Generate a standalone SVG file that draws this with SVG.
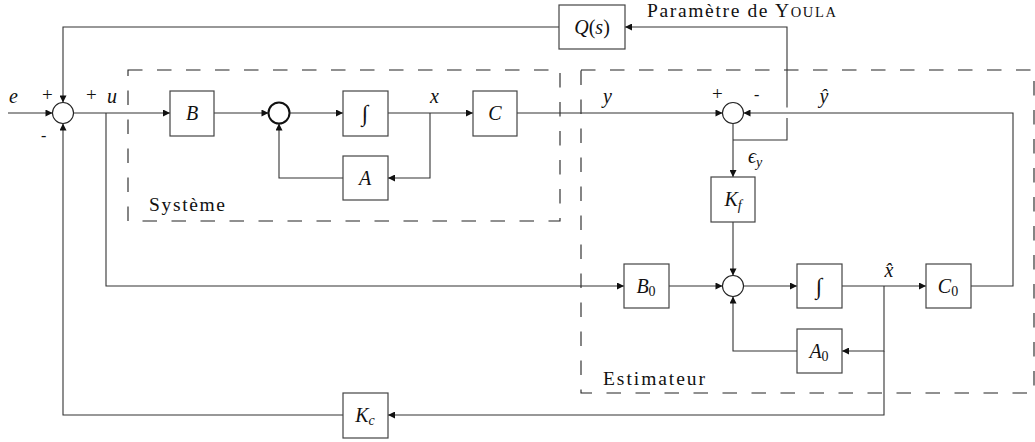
<svg xmlns="http://www.w3.org/2000/svg" width="1035" height="442" viewBox="0 0 1035 442">
  <style>
    .box { fill: #fff; stroke: #444; stroke-width: 1.2; }
    .sum { fill: #fff; stroke: #222; stroke-width: 1.1; }
    .sumb { fill: #fff; stroke: #111; stroke-width: 2; }
    .wire { fill: none; stroke: #333; stroke-width: 1.1; }
    .dash { fill: none; stroke: #222; stroke-width: 1.1; stroke-dasharray: 14.5 14.5; }
    .m { font-family: "Liberation Serif", serif; font-style: italic; font-size: 20px; fill: #111; }
    .mc { font-family: "Liberation Serif", serif; font-style: italic; font-size: 20px; fill: #111; text-anchor: middle; }
    .sub { font-style: normal; font-size: 14px; }
    .subi { font-style: italic; font-size: 14px; }
    .t { font-family: "Liberation Serif", serif; font-size: 19.5px; fill: #111; }
    .s { font-family: "Liberation Serif", serif; font-size: 19px; fill: #111; }
    .h { font-family: "Liberation Serif", serif; font-size: 16px; fill: #111; }
    .int { font-family: "Liberation Serif", "DejaVu Serif", serif; font-style: italic; font-size: 23px; fill: #111; text-anchor: middle; }
  </style>
  <defs>
    <marker id="arr" viewBox="0 0 10 10" refX="10" refY="5" markerWidth="8" markerHeight="7" markerUnits="userSpaceOnUse" orient="auto">
      <path d="M0,0 L10,5 L0,10 z" fill="#111"/>
    </marker>
  </defs>

  <!-- dashed regions -->
  <g id="systeme-region">
    <rect class="dash" x="128" y="70" width="432" height="151"/>
    <text class="t" x="149" y="211" textLength="76" lengthAdjust="spacing">Système</text>
  </g>
  <g id="estimateur-region">
    <rect class="dash" x="581" y="70" width="453" height="323"/>
    <text class="t" x="603" y="385" textLength="102" lengthAdjust="spacing">Estimateur</text>
  </g>

  <!-- connectors -->
  <g id="connectors">
    <path class="wire" d="M8,113 H52.5" marker-end="url(#arr)"/>
    <path class="wire" d="M73.5,113 H170" marker-end="url(#arr)"/>
    <path class="wire" d="M106,113 V286 H624" marker-end="url(#arr)"/>
    <path class="wire" d="M214,113 H268.5" marker-end="url(#arr)"/>
    <path class="wire" d="M289.5,113 H343" marker-end="url(#arr)"/>
    <path class="wire" d="M388,113 H473" marker-end="url(#arr)"/>
    <path class="wire" d="M430,113 V178 H388" marker-end="url(#arr)"/>
    <path class="wire" d="M343,178 H279 V123.5" marker-end="url(#arr)"/>
    <path class="wire" d="M517,113 H722.5" marker-end="url(#arr)"/>
    <path class="wire" d="M971,286 H1013 V113 H743.5" marker-end="url(#arr)"/>
    <path class="wire" d="M733,123.5 V177" marker-end="url(#arr)"/>
    <path class="wire" d="M733,140 H787 V118"/>
    <path class="wire" d="M787,107.5 V27 H625" marker-end="url(#arr)"/>
    <path class="wire" d="M559,27 H63 V102.5" marker-end="url(#arr)"/>
    <path class="wire" d="M733,222 V275.5" marker-end="url(#arr)"/>
    <path class="wire" d="M669,286 H722.5" marker-end="url(#arr)"/>
    <path class="wire" d="M743.5,286 H797" marker-end="url(#arr)"/>
    <path class="wire" d="M842,286 H926" marker-end="url(#arr)"/>
    <path class="wire" d="M884,286 V351 H842" marker-end="url(#arr)"/>
    <path class="wire" d="M797,351 H733 V296.5" marker-end="url(#arr)"/>
    <path class="wire" d="M884,351 V415 H388" marker-end="url(#arr)"/>
    <path class="wire" d="M343,415 H63 V123.5" marker-end="url(#arr)"/>
  </g>

  <!-- signal labels -->
  <g id="labels">
    <text class="m" x="9" y="103">e</text>
    <text class="s" x="42" y="101">+</text>
    <text class="h" x="41" y="141">-</text>
    <text class="s" x="86" y="101">+</text>
    <text class="m" x="107" y="103">u</text>
    <text class="m" x="430" y="103">x</text>
    <text class="m" x="603" y="103">y</text>
    <text class="s" x="712" y="100">+</text>
    <text class="h" x="754" y="100">-</text>
    <text class="mc" x="824" y="103">ŷ</text>
    <text class="m" x="748" y="163">ϵ<tspan class="subi" dy="4">y</tspan></text>
    <text class="mc" x="889" y="277">x̂</text>
    <text class="t" x="647" y="17" textLength="189" lengthAdjust="spacing">Paramètre de Y<tspan font-size="14.5">OULA</tspan></text>
  </g>

  <!-- summing junctions -->
  <g id="sum1"><circle class="sum" cx="63" cy="113" r="10.5"/></g>
  <g id="sum-sys"><circle class="sumb" cx="279" cy="113" r="10.5"/></g>
  <g id="sum2"><circle class="sum" cx="733" cy="113" r="10.5"/></g>
  <g id="sum3"><circle class="sum" cx="733" cy="286" r="10.5"/></g>

  <!-- blocks -->
  <g id="B"><rect class="box" x="170" y="91" width="44" height="45"/><text class="mc" x="192" y="120">B</text></g>
  <g id="int1"><rect class="box" x="343" y="91" width="45" height="45"/><text class="int" x="365" y="121">∫</text></g>
  <g id="C"><rect class="box" x="473" y="91" width="44" height="45"/><text class="mc" x="495" y="120">C</text></g>
  <g id="A"><rect class="box" x="343" y="156" width="45" height="44"/><text class="mc" x="365" y="185">A</text></g>
  <g id="Q"><rect class="box" x="559" y="5" width="66" height="44"/><text class="mc" x="592" y="34">Q<tspan font-style="normal">(</tspan>s<tspan font-style="normal">)</tspan></text></g>
  <g id="Kf"><rect class="box" x="711" y="177" width="44" height="45"/><text class="mc" x="733" y="206">K<tspan class="subi" dy="4">f</tspan></text></g>
  <g id="B0"><rect class="box" x="624" y="264" width="45" height="44"/><text class="mc" x="646" y="293">B<tspan class="sub" dy="3">0</tspan></text></g>
  <g id="int2"><rect class="box" x="797" y="264" width="45" height="44"/><text class="int" x="819" y="294">∫</text></g>
  <g id="C0"><rect class="box" x="926" y="264" width="45" height="44"/><text class="mc" x="948" y="293">C<tspan class="sub" dy="3">0</tspan></text></g>
  <g id="A0"><rect class="box" x="797" y="329" width="45" height="44"/><text class="mc" x="819" y="358">A<tspan class="sub" dy="3">0</tspan></text></g>
  <g id="Kc"><rect class="box" x="343" y="393" width="45" height="45"/><text class="mc" x="365" y="422">K<tspan class="subi" dy="3">c</tspan></text></g>
</svg>
